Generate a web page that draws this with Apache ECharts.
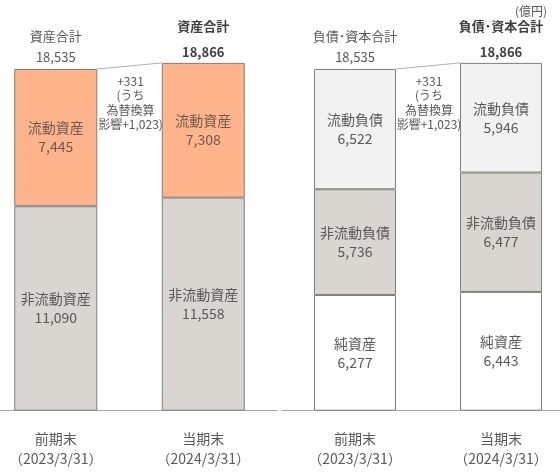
<!DOCTYPE html>
<html><head><meta charset="utf-8">
<script src="https://cdn.jsdelivr.net/npm/echarts@6/dist/echarts.min.js"></script>
<style>html,body{margin:0;padding:0;background:#fff}#c{width:560px;height:473px}</style>
</head><body><div id="c"></div>
<script>
const categories = ['前期末\n（2023/3/31）', '当期末\n（2024/3/31）'];
const currentAssets = [7445, 7308];
const nonCurrentAssets = [11090, 11558];
const totalAssets = [18535, 18866];
const currentLiab = [6522, 5946];
const nonCurrentLiab = [5736, 6477];
const netAssets = [6277, 6443];
const totalLE = [18535, 18866];
const assetTitle = '資産合計';
const leTitle = '負債･資本合計';
const diffNote = '+331\n(うち\n為替換算\n影響+1,023)';
const unitLabel = '(億円)';

const FONT = '"Noto Sans CJK JP", "Noto Sans", sans-serif';
const TXT = '#595959';
const fmt = v => v.toLocaleString('en-US');

function segLabel(color) {
  return {
    show: true, position: 'inside', color: color, fontSize: 14, lineHeight: 19, fontFamily: FONT,
    formatter: p => p.seriesName + '\n' + fmt(p.value)
  };
}
function bar(name, data, color, xi, bw, lblColor) {
  return {
    type: 'bar', name: name, data: data, stack: 's' + xi, xAxisIndex: xi, yAxisIndex: xi,
    barWidth: bw, itemStyle: { color: color, borderColor: '#7f7f7f', borderWidth: 1 },
    label: segLabel(lblColor || TXT), emphasis: { disabled: true }, silent: true
  };
}
function totals(title, data, xi, bw) {
  return {
    type: 'custom', xAxisIndex: xi, yAxisIndex: xi, clip: false, z: 10, silent: true,
    data: data.map((v, i) => [i, v]),
    renderItem: function (params, api) {
      const i = api.value(0);
      const p = api.coord([i, api.value(1)]);
      const bold = i === 1;
      const children = [
        { type: 'text', style: { text: title, x: p[0], y: p[1] - (bold ? 37 : 32.5), align: 'center', verticalAlign: 'middle',
          fill: bold ? '#404040' : TXT, fontSize: 13, fontWeight: bold ? 'bold' : 'normal', fontFamily: FONT } },
        { type: 'text', style: { text: fmt(api.value(1)), x: p[0], y: p[1] - (bold ? 11 : 11.5), align: 'center', verticalAlign: 'middle',
          fill: bold ? '#404040' : TXT, fontSize: 13, fontWeight: bold ? 'bold' : 'normal', fontFamily: FONT } }
      ];
      if (i === 0) {
        const q = api.coord([1, data[1]]);
        children.push({ type: 'line', shape: { x1: p[0] + bw / 2, y1: p[1], x2: q[0] - bw / 2, y2: q[1] },
          style: { stroke: '#b0b0b0', lineWidth: 1 } });
        children.push({ type: 'text', style: { text: diffNote, x: (p[0] + q[0]) / 2 + 1, y: p[1] + 5, align: 'center', verticalAlign: 'top',
          fill: TXT, fontSize: 12, lineHeight: 14.5, fontFamily: FONT } });
      }
      return { type: 'group', children: children };
    }
  };
}
const xAx = i => ({
  type: 'category', gridIndex: i, data: categories,
  axisLine: { lineStyle: { color: '#a6a6a6', width: 1 } }, axisTick: { show: false },
  axisLabel: { color: TXT, fontSize: 14, lineHeight: 20, margin: 18, fontFamily: FONT }
});
const yAx = i => ({ type: 'value', gridIndex: i, min: 0, max: 20000, show: false });

const chart = echarts.init(document.getElementById('c'), null, { renderer: 'canvas' });
chart.setOption({
  animation: false,
  textStyle: { fontFamily: FONT },
  title: { text: unitLabel, right: 8, top: 0, textStyle: { color: TXT, fontSize: 12, fontWeight: 'normal', fontFamily: FONT } },
  grid: [
    { left: -18, width: 295, top: 42, height: 368.7, outerBoundsMode: 'none', containLabel: false },
    { left: 282, width: 292, top: 42, height: 368.7, outerBoundsMode: 'none', containLabel: false }
  ],
  xAxis: [xAx(0), xAx(1)],
  yAxis: [yAx(0), yAx(1)],
  series: [
    bar('非流動資産', nonCurrentAssets, '#d9d5d0', 0, 83),
    bar('流動資産', currentAssets, '#ffb48c', 0, 83, '#6e5a50'),
    totals(assetTitle, totalAssets, 0, 83),
    bar('純資産', netAssets, '#ffffff', 1, 82),
    bar('非流動負債', nonCurrentLiab, '#d9d5d0', 1, 82),
    bar('流動負債', currentLiab, '#f2f2f2', 1, 82),
    totals(leTitle, totalLE, 1, 82)
  ]
});
</script></body></html>
